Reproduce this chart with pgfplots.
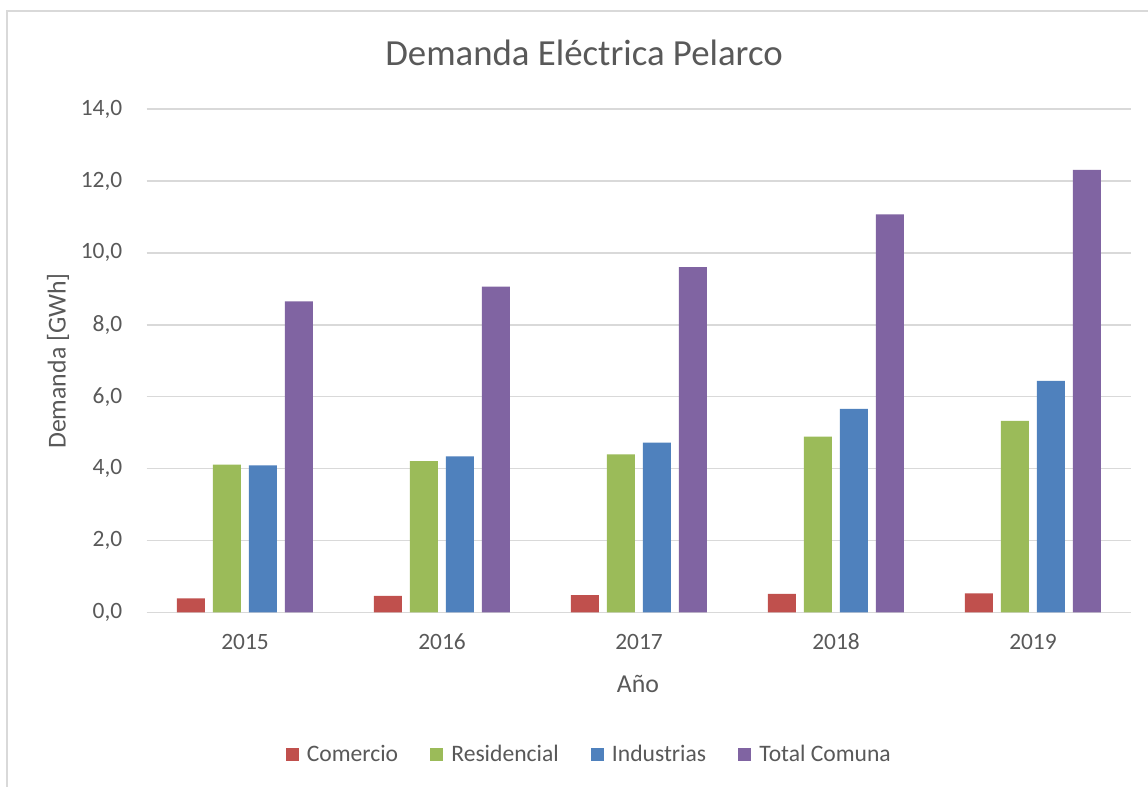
\documentclass[border=0pt]{standalone}
\usepackage{fontspec}
\setmainfont{Carlito}
\usepackage{pgfplots}
\pgfplotsset{compat=1.18}
\definecolor{cCom}{HTML}{C0504D}
\definecolor{cRes}{HTML}{9BBB59}
\definecolor{cInd}{HTML}{4F81BD}
\definecolor{cTot}{HTML}{8064A2}
\definecolor{txt}{HTML}{595959}
\definecolor{grd}{HTML}{D9D9D9}
\begin{document}
\begin{tikzpicture}
\useasboundingbox (0,0) rectangle (574pt,393.5pt);
\fill[white] (0,0) rectangle (574pt,393.5pt);
\draw[grd, line width=0.75pt] (3.5pt,-10pt) -- (3.5pt,388pt) -- (590pt,388pt);
\begin{axis}[
  at={(73.25pt,87.25pt)}, anchor=south west,
  width=492.5pt, height=251.75pt, scale only axis,
  xmin=-0.5, xmax=4.5, ymin=0, ymax=14,
  ybar, bar width=14pt,
  xtick={0,1,2,3,4},
  xticklabels={2015,2016,2017,2018,2019},
  ytick={0,2,4,6,8,10,12,14},
  axis line style={draw=none},
  major tick length=0pt,
  ymajorgrids, grid style={grd, line width=0.75pt},
  tick label style={font=\fontsize{11.7}{13}\selectfont, text=txt},
  xticklabel style={anchor=base, inner sep=0pt, yshift=-18.75pt},
  yticklabel style={anchor=east, inner sep=0pt, xshift=-11.9pt},
  /pgf/number format/.cd, fixed, fixed zerofill, precision=1, use comma, assume math mode=true,
  /pgfplots/.cd,
  legend columns=4,
  legend style={draw=none, at={(0.4505,-0.282)}, anchor=center,
    font=\fontsize{11.8}{13}\selectfont, text=txt,
    /tikz/every even column/.append style={column sep=14pt},
    legend cell align=left},
  legend image code/.code={\fill[#1] (0pt,-3.3pt) rectangle (6.6pt,3.3pt); \path (8.6pt,0pt);},
]
\addplot[fill=cCom, draw=none, bar shift=-27pt] coordinates {(0,0.39) (1,0.46) (2,0.48) (3,0.52) (4,0.53)};
\addplot[fill=cRes, draw=none, bar shift=-9pt] coordinates {(0,4.11) (1,4.21) (2,4.40) (3,4.89) (4,5.33)};
\addplot[fill=cInd, draw=none, bar shift=9pt] coordinates {(0,4.09) (1,4.34) (2,4.72) (3,5.66) (4,6.44)};
\addplot[fill=cTot, draw=none, bar shift=27pt] coordinates {(0,8.65) (1,9.06) (2,9.60) (3,11.07) (4,12.31)};
\legend{Comercio,Residencial,Industrias,Total Comuna}
\end{axis}
\node[anchor=base, text=txt, font=\fontsize{18.4}{21}\selectfont] at (292pt,360.5pt) {Demanda Eléctrica Pelarco};
\node[rotate=90, text=txt, font=\fontsize{12.9}{15}\selectfont] at (29pt,213pt) {Demanda [GWh]};
\node[text=txt, font=\fontsize{12.9}{15}\selectfont] at (319pt,51.5pt) {Año};
\end{tikzpicture}
\end{document}
